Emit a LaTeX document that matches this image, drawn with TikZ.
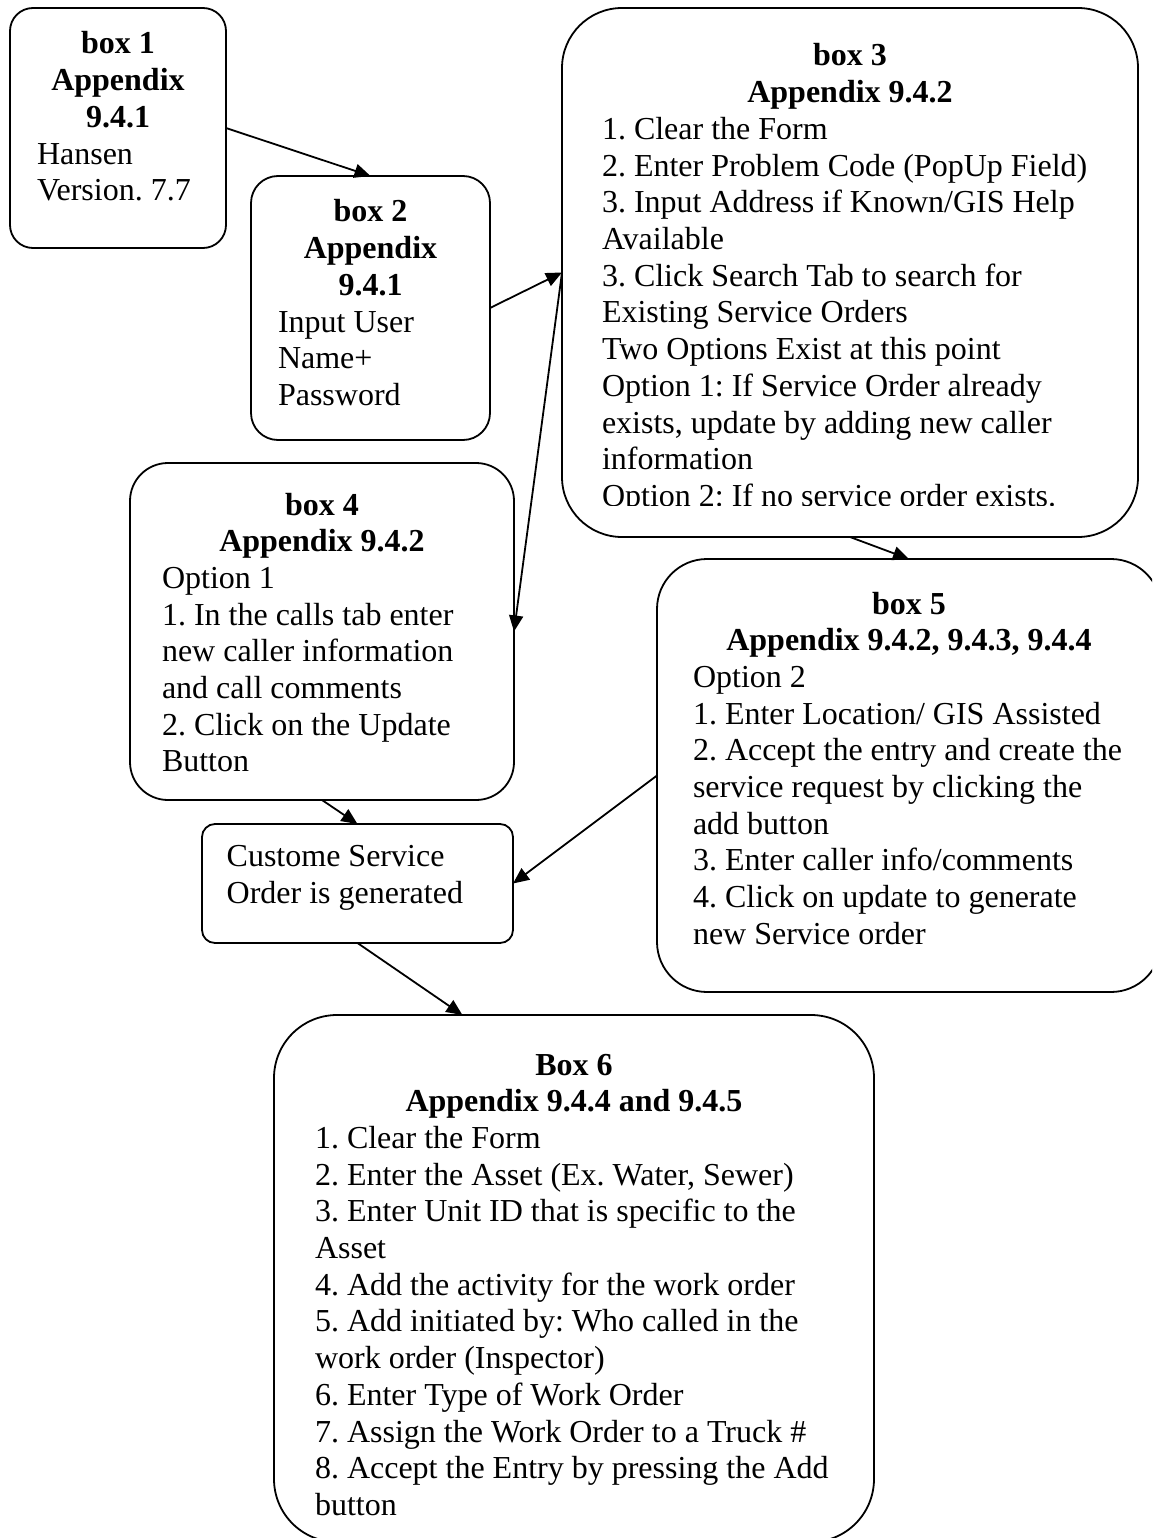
\documentclass[tikz,border=0pt]{standalone}
\usepackage{fontspec}
\setmainfont{Liberation Serif}
\usetikzlibrary{arrows.meta,calc}
\frenchspacing
% strut that fixes the top of the first text line 30pt above its baseline
\newcommand\hdstrut{\rule{0pt}{30pt}}
\tikzset{
  card/.style={draw=black, line width=1.8pt, inner sep=0pt, outer sep=0pt},
  txt/.style={inner sep=0pt, outer sep=0pt},
  head/.style={txt, align=center, anchor=north, font=\fontsize{32}{36.7}\selectfont\bfseries},
  body/.style={txt, align=left, anchor=north west, font=\fontsize{32}{36.7}\selectfont},
  link/.style={line width=1.8pt, -{Triangle[length=16pt,width=14pt]}},
}
\begin{document}
\begin{tikzpicture}[x=1pt, y=-1pt]
\useasboundingbox (0,0) rectangle (1152,1538);
\fill[white] (0,0) rectangle (1152,1538);
\clip (0,0) rectangle (1152,1538);

% ---- boxes ----
\node[card, minimum width=216pt, minimum height=240pt, rounded corners=23pt] (b1) at (118,128) {};
\node[card, minimum width=239pt, minimum height=264pt, rounded corners=27pt] (b2) at (370.5,308) {};
\node[card, minimum width=576pt, minimum height=529pt, rounded corners=60pt] (b3) at (850,272.5) {};
\node[card, minimum width=384pt, minimum height=337pt, rounded corners=38pt] (b4) at (322,631.5) {};
\node[card, minimum width=504pt, minimum height=433pt, rounded corners=50pt] (b5) at (909,775.5) {};
\node[card, minimum width=311pt, minimum height=119pt, rounded corners=13pt] (bc) at (357.5,883.5) {};
\node[card, minimum width=600pt, minimum height=527pt, rounded corners=63pt] (b6) at (574,1278.5) {};

% ---- box texts ----
\node[head] (b1h) at (118,24) {\hdstrut box 1\\Appendix\\9.4.1};
\node[body] (b1t) at (37,134.1) {\hdstrut Hansen\\Version. 7.7};

\node[head] (b2h) at (370.5,192) {\hdstrut box 2\\Appendix\\9.4.1};
\node[body] (b2t) at (278,302.1) {\hdstrut Input User\\Name+\\Password};

\node[head] (b3h) at (850,36) {\hdstrut box 3\\Appendix 9.4.2};
\begin{scope}
  \clip (562,8) rectangle (1138,505);
  \node[body] (b3t) at (602,109.4) {\hdstrut 1. Clear the Form\\
    2. Enter Problem Code (PopUp Field)\\
    3. Input Address if Known/GIS Help\\
    Available\\
    3. Click Search Tab to search for\\
    Existing Service Orders\\
    Two Options Exist at this point\\
    Option 1: If Service Order already\\
    exists, update by adding new caller\\
    information\\
    Option 2: If no service order exists.};
\end{scope}

\node[head] (b4h) at (322,485) {\hdstrut box 4\\Appendix 9.4.2};
\node[body] (b4t) at (162,558.4) {\hdstrut Option 1\\
  1. In the calls tab enter\\
  new caller information\\
  and call comments\\
  2. Click on the Update\\
  Button};

\node[head] (b5h) at (909,584) {\hdstrut box 5\\Appendix 9.4.2, 9.4.3, 9.4.4};
\node[body] (b5t) at (693,657.4) {\hdstrut Option 2\\
  1. Enter Location/ GIS Assisted\\
  2. Accept the entry and create the\\
  service request by clicking the\\
  add button\\
  3. Enter caller info/comments\\
  4. Click on update to generate\\
  new Service order};

\node[body] (bct) at (226.7,836.7) {\hdstrut Custome Service\\Order is generated};

\node[head] (b6h) at (574,1045) {\hdstrut Box 6\\Appendix 9.4.4 and 9.4.5};
\node[body] (b6t) at (315,1118.4) {\hdstrut 1. Clear the Form\\
  2. Enter the Asset (Ex. Water, Sewer)\\
  3. Enter Unit ID that is specific to the\\
  Asset\\
  4. Add the activity for the work order\\
  5. Add initiated by: Who called in the\\
  work order (Inspector)\\
  6. Enter Type of Work Order\\
  7. Assign the Work Order to a Truck \#\\
  8. Accept the Entry by pressing the Add\\
  button};

% ---- connectors ----
\draw[link] (b1.east) -- (b2.north);
\draw[link] (b2.east) -- (b3.west);
\draw[link] (b3.west) -- (b4.east);
\draw[link] (b3.south) -- (b5.north);
\draw[link] (b4.south) -- (bc.north);
\draw[link] (b5.west) -- (bc.east);
\draw[link] (bc.south) -- ($(b6.north west)!0.314!(b6.north east)$);
\end{tikzpicture}
\end{document}
